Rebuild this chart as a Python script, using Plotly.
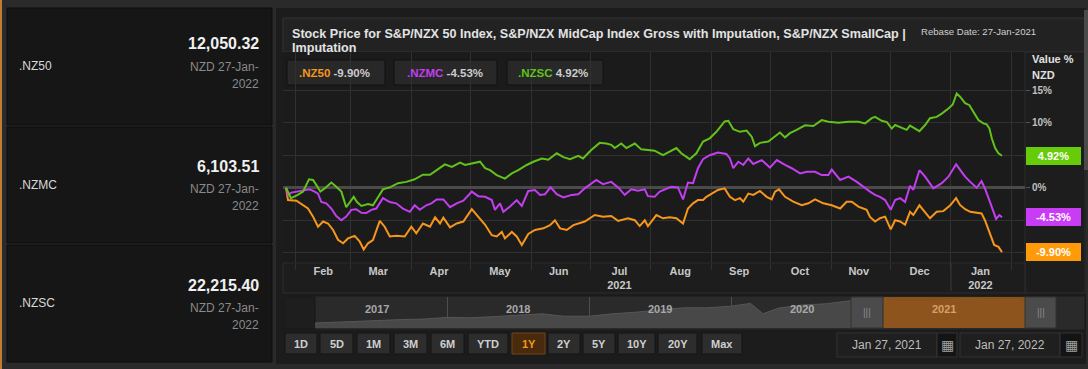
import plotly.graph_objects as go
import pandas as pd

W, H = 1088, 369
def px(x): return x / W
def py(y): return 1 - y / H

FONT = "Arial, Liberation Sans, sans-serif"

# ---------------- data ----------------
REBASE_DATE = "2021-01-27"
symbols = [".NZ50", ".NZMC", ".NZSC"]
last_prices = ["12,050.32", "6,103.51", "22,215.40"]
price_date_1 = "NZD 27-Jan-"
price_date_2 = "2022"
changes = [-9.90, -4.53, 4.92]
line_colors = ["#f7961c", "#c23ef0", "#62c21b"]
tag_colors = ["#ff9a0a", "#c93cf5", "#66cc0a"]

# days since rebase date and % change values
nz50_days = [0, 1, 5.3, 8.7, 11.2, 13.8, 16.3, 18.9, 21.4, 24,
             26.5, 29.1, 31.6, 35, 37.6, 39.6, 41.8, 44.3, 47.8, 50.3,
             52.9, 56.2, 60.5, 63.9, 66.4, 69.8, 73.4, 76, 78.5, 80.2,
             83.6, 87, 90.4, 94.7, 98, 101.5, 104.9, 107.4, 110, 111.6,
             115.1, 117.6, 120.2, 123.5, 126.9, 131.2, 134.6, 137.1, 139.7, 143.1,
             146.5, 149, 152.3, 157.4, 161.6, 165.8, 169.3, 174.3, 177.8, 180.3,
             182.9, 184.5, 188.8, 192.2, 195.6, 199, 202.4, 204.9, 207.5, 210,
             212.6, 214.3, 216.8, 220.2, 223.6, 226.3, 228.9, 231.4, 233.1, 235.7,
             238.2, 241.6, 245, 247.6, 249.3, 251.3, 254.4, 258.6, 262.9, 266.3,
             269.7, 273.9, 278.2, 282.5, 285.8, 288.4, 291.8, 296, 297.7, 300.3,
             302.8, 305.4, 308.3, 310.5, 313.1, 315.6, 318.1, 319.8, 322.9, 325.8,
             328.3, 331.7, 335.1, 338.5, 341.6, 343.6, 346.2, 348.8, 352.1, 354.6,
             356.3, 358.9, 361, 363.2, 365]
nz50_vals = [0, -1.9, -2.0, -2.7, -3.2, -4.45, -6.0, -5.2, -5.5, -6.5,
             -8.0, -8.55, -7.8, -7.4, -8.3, -9.5, -8.55, -8.05, -5.1, -6.0,
             -7.5, -7.4, -7.5, -6.0, -7.0, -5.5, -6.0, -4.55, -5.5, -4.6,
             -6.1, -5.5, -5.2, -3.3, -4.45, -5.7, -7.3, -7.5, -6.8, -7.8,
             -6.8, -7.5, -8.8, -7.1, -6.5, -6.25, -5.75, -5.0, -6.25, -6.5,
             -5.75, -5.5, -5.2, -4.2, -4.45, -4.35, -5.1, -4.7, -5.0, -5.9,
             -5.0, -5.9, -4.2, -4.7, -4.55, -4.7, -5.5, -3.2, -2.4, -1.9,
             -1.9, -1.4, -0.9, -0.35, -0.1, -1.4, -1.9, -1.6, -2.15, -0.9,
             -1.1, -0.5, -1.4, -1.8, -0.6, -0.25, -1.4, -2.15, -2.7, -2.4,
             -1.8, -2.4, -2.7, -3.2, -2.15, -2.15, -2.9, -3.4, -4.5, -5.2,
             -4.7, -4.45, -6.4, -5.0, -5.2, -5.7, -3.7, -4.2, -2.7, -3.7,
             -4.7, -3.7, -3.6, -2.75, -1.6, -2.65, -3.3, -3.7, -3.9, -3.95,
             -5.0, -7.0, -8.8, -9.1, -9.90]

nzmc_days = [0, 1, 2.7, 6.1, 9.5, 12.1, 14.6, 16.3, 18, 20.5,
             23.1, 25.6, 28.2, 30.7, 33.3, 35.8, 38.4, 40.9, 43.5, 46,
             49.4, 52.9, 56.2, 59.6, 63.1, 65.6, 68.2, 71.5, 74.1, 76.8,
             80.2, 83.6, 87, 90.4, 94.7, 98, 101.5, 104.9, 106.5, 109.1,
             110.8, 114.2, 117.6, 120.2, 123.5, 126.9, 129.5, 132, 134.9, 138,
             141.4, 145.6, 149, 152.3, 158.2, 161.6, 165.8, 169.3, 172.7, 176,
             179.4, 182.9, 184.5, 187.9, 190.5, 193, 196.4, 199.8, 202.4, 204.9,
             207.5, 210, 212.6, 216, 220.2, 224.5, 226.3, 228, 230.6, 233.1,
             235.7, 238.2, 242.5, 246.7, 250.2, 254.4, 257.8, 262.1, 265.5, 269.7,
             273.1, 276.5, 278.2, 282.5, 286.7, 291, 295.2, 297.7, 300.3, 302.8,
             305.4, 308.3, 310.5, 313.1, 315.6, 318.1, 319.8, 322.9, 325.8, 330,
             334.3, 337.7, 341.6, 343.6, 346.2, 348.8, 352.1, 354.6, 356.3, 358.9,
             362, 363.7, 365]
nzmc_vals = [0, -1.1, -0.75, -0.6, -0.45, -0.25, -0.6, -0.9, -2.2, -2.4,
             -3.2, -4.35, -5.0, -4.45, -3.4, -3.3, -3.85, -3.9, -3.4, -3.2,
             -1.6, -2.2, -2.4, -3.2, -3.7, -2.7, -3.4, -2.7, -2.4, -1.8,
             -1.8, -3.0, -2.4, -2.0, -0.6, -1.3, -1.4, -1.9, -3.4, -2.4,
             -3.7, -2.9, -1.9, -2.8, -0.5, -0.35, -1.1, -1.0, 0.05, -1.0,
             -1.5, -1.1, -1.0, -0.1, 1.2, 0.55, 0.9, 0.05, -1.1, -0.25,
             -0.45, -0.25, -1.3, -1.4, -0.6, -0.25, 0.15, 0.05, -1.8, 0.8,
             0.7, 3.0, 4.4, 5.0, 5.4, 5.2, 4.5, 3.0, 4.0, 3.5,
             4.5, 3.65, 4.25, 3.1, 4.25, 3.5, 3.0, 2.2, 2.45, 2.45,
             1.95, 1.95, 2.8, 1.2, 1.7, 0.9, -0.1, -0.6, -1.1, -1.4,
             -1.9, -3.4, -1.9, -1.6, -2.2, 0.3, -0.35, 2.7, 1.7, -0.1,
             0.7, 1.7, 3.6, 2.7, 1.7, 0.9, 0.0, 1.0, -0.1, -2.2,
             -4.8, -4.2, -4.53]

nzsc_days = [0, 2.5, 6, 8.7, 11.7, 13.8, 15.5, 17.5, 19.7, 23.1,
             25.6, 28.2, 30.7, 32.5, 34.5, 36.2, 38.4, 41.8, 44.3, 46,
             49.4, 52.9, 57.1, 61.3, 65.6, 69.8, 73.4, 76.8, 81, 84.5,
             88.7, 91.3, 94.7, 98.9, 101.5, 104, 107.4, 111.6, 115.1, 118.4,
             122.7, 126.1, 130.4, 133.7, 138, 141.4, 144.8, 149, 151.4, 155.6,
             159.9, 163.3, 165.8, 167.6, 170.9, 173.5, 177.8, 181.1, 184.5, 187.9,
             192.2, 195.6, 199, 201.5, 205.8, 209.2, 212.6, 216, 219.4, 223.6,
             225.5, 228, 231.4, 234.8, 237.4, 239.1, 241.6, 245.9, 249.3, 251.8,
             254.4, 256.9, 260.3, 264.6, 268.8, 273.1, 276.5, 281.6, 286.7, 291.8,
             295.2, 298.6, 300.3, 303.7, 306.3, 308.8, 310.5, 313.9, 316.4, 318.1,
             320.7, 322.9, 325.8, 328.3, 331.7, 334.3, 337.7, 339.9, 341.9, 343.6,
             346.2, 348.4, 350.4, 353, 355.5, 357.2, 358.6, 359.8, 361.5, 363.2,
             365]
nzsc_vals = [0, -1.6, -1.1, -0.6, 1.3, 1.2, 0.4, -0.6, -0.1, 0.8,
             0.15, -0.6, -3.0, -2.2, -1.4, -2.2, -2.8, -2.5, -2.7, -1.9,
             -0.25, 0.05, 0.7, 0.9, 1.3, 2.0, 2.0, 2.7, 3.6, 3.2,
             3.85, 3.5, 3.75, 4.0, 3.0, 2.7, 1.95, 1.4, 2.2, 2.7,
             3.5, 4.0, 4.5, 4.3, 5.3, 4.7, 4.4, 4.9, 4.5, 5.8,
             6.9, 6.8, 6.6, 6.1, 6.8, 6.1, 6.8, 5.9, 5.8, 5.7,
             5.0, 5.5, 6.1, 5.3, 4.4, 5.3, 7.1, 7.6, 8.6, 10.2,
             10.3, 9.0, 8.6, 8.8, 7.85, 6.4, 6.9, 7.1, 7.85, 8.5,
             7.75, 8.4, 8.9, 9.6, 9.5, 10.4, 10.15, 10.0, 10.15, 10.15,
             9.9, 10.7, 10.9, 10.3, 10.1, 9.1, 9.65, 9.2, 8.9, 9.55,
             9.1, 8.7, 9.65, 10.7, 10.9, 11.4, 12.2, 12.8, 14.5, 14.0,
             13.0, 12.7, 11.7, 10.4, 9.9, 9.75, 9.1, 7.6, 6.1, 5.3,
             4.92]

month_tick_dates = ["2021-02-15", "2021-03-15", "2021-04-15", "2021-05-16", "2021-06-15",
                    "2021-07-16", "2021-08-16", "2021-09-15", "2021-10-16", "2021-11-15",
                    "2021-12-16", "2022-01-16"]
month_tick_labels = ["Feb", "Mar", "Apr", "May", "Jun", "Jul<br>2021", "Aug", "Sep",
                     "Oct", "Nov", "Dec", "Jan<br>2022"]
# labels at -10, -5 and 5 are hidden behind the value tags in the reference
y_tick_vals = [-10, -5, 0, 5, 10, 15]
y_tick_text = ["", "", "0%", "", "10%", "15%"]

# navigator (long history of index level)
nav_dates = ["2017-01-24", "2017-03-01", "2017-05-01", "2017-07-01", "2017-09-01", "2017-11-01",
             "2018-01-01", "2018-03-01", "2018-05-01", "2018-07-01", "2018-09-01", "2018-10-25",
             "2018-12-01", "2019-01-01", "2019-03-01", "2019-05-01", "2019-07-01", "2019-09-01",
             "2019-11-01", "2020-01-01", "2020-02-20", "2020-03-23", "2020-05-01", "2020-07-01",
             "2020-09-01", "2020-11-01", "2021-01-04", "2021-03-01", "2021-05-01", "2021-07-01",
             "2021-09-01", "2021-11-01", "2022-01-04", "2022-01-27"]
nav_vals = [7000, 7100, 7300, 7600, 7850, 8000,
            8400, 8300, 8600, 9000, 9300, 8700,
            8800, 8700, 9300, 9700, 10300, 10800,
            10800, 11200, 11900, 9300, 10700, 11500,
            11800, 12600, 13300, 12500, 12300, 12700,
            13200, 12800, 12900, 12050]
nav_years = ["2017", "2018", "2019", "2020", "2021"]

range_buttons = ["1D", "5D", "1M", "3M", "6M", "YTD", "1Y", "2Y", "5Y", "10Y", "20Y", "Max"]
active_button = "1Y"
date_from, date_to = "Jan 27, 2021", "Jan 27, 2022"

# ---------------- figure ----------------
base = pd.Timestamp(REBASE_DATE)
def to_dates(days):
    return base + pd.to_timedelta(days, unit="D")

fig = go.Figure()
for days, vals, col in [(nz50_days, nz50_vals, line_colors[0]),
                        (nzmc_days, nzmc_vals, line_colors[1]),
                        (nzsc_days, nzsc_vals, line_colors[2])]:
    fig.add_trace(go.Scatter(x=to_dates(days), y=vals, mode="lines",
                             line=dict(color=col, width=2), hoverinfo="skip"))

fig.add_trace(go.Scatter(x=nav_dates, y=nav_vals, xaxis="x2", yaxis="y2", mode="lines",
                         fill="tozeroy", fillcolor="#484848",
                         line=dict(color="#565656", width=1), hoverinfo="skip"))

shapes = []
def rect(x0, y0, x1, y1, fill, line=None, lw=1, layer="below"):
    shapes.append(dict(type="rect", xref="paper", yref="paper",
                       x0=px(x0), x1=px(x1), y0=py(y1), y1=py(y0),
                       fillcolor=fill, line=dict(color=line or fill, width=lw if line else 0),
                       layer=layer))

# left cards
rect(0, 0, 2, 369, "#c47a32")
card_rows = [(8, 125), (127, 243), (245, 362)]
for (t, b) in card_rows:
    rect(7, t, 272, b, "#161616", "#0c0c0c")
# chart container
rect(276, 8, 1086, 364, "#1c1c1c")
rect(283, 18, 1085, 52, "#222222", "#333333")
rect(283, 52, 1025, 263, "#1b1b1b")
rect(1025, 52, 1085, 293, "#1d1d1d", "#2c2c2c")
rect(283, 263, 1025, 293, "#1d1d1d", "#2c2c2c")
# navigator background
rect(283, 296, 1085, 330, "#2a2a2a", "#1a1a1a")
rect(284, 297, 315, 329, "#1e1e1e", "#161616")
# legend boxes
legend_boxes = [(287, 385), (394, 497), (507, 603)]
for (x0, x1) in legend_boxes:
    rect(x0, 60, x1, 85, "#282828", "#111111")
# scrollbar
rect(1084, 10, 1088, 170, "#4a4a4a")

# year boundary tick under axis
shapes.append(dict(type="line", xref="x", yref="paper", x0="2022-01-01", x1="2022-01-01",
                   y0=py(291), y1=py(263), line=dict(color="#3a3a3a", width=1)))

# selection overlay in navigator
shapes.append(dict(type="rect", xref="x2", yref="paper", x0=REBASE_DATE, x1="2022-01-27",
                   y0=py(328), y1=py(297), fillcolor="rgba(150,85,25,0.9)",
                   line=dict(width=0), layer="above"))
rect(851, 297, 883, 328, "#4b4b4b", "#333333", layer="above")
rect(1025, 297, 1056, 328, "#4b4b4b", "#333333", layer="above")

# buttons
btn_x = [(285, 317), (320, 353), (357, 390), (394, 427), (431, 464), (468, 508),
         (512, 545), (548, 580), (583, 615), (618, 655), (658, 697), (702, 742)]
for lab, (x0, x1) in zip(range_buttons, btn_x):
    if lab == active_button:
        rect(x0, 333, x1, 354, "#4a2a0c", "#6e4418")
    else:
        rect(x0, 333, x1, 354, "#2d2d2d", "#151515")
# date boxes
rect(837, 333, 937, 357, "#1f1f1f", "#333333")
rect(937, 333, 957, 357, "#141414", "#333333")
rect(960, 333, 1060, 357, "#1f1f1f", "#333333")
rect(1060, 333, 1082, 357, "#141414", "#333333")

ann = []
def text(x, y, s, size=11, color="#dddddd", anchor="left", bold=False, **kw):
    ann.append(dict(xref="paper", yref="paper", x=px(x), y=py(y), text=s, showarrow=False,
                    xanchor=anchor, yanchor="middle",
                    font=dict(family=FONT, size=size, color=color,
                              weight="bold" if bold else "normal"), **kw))

# left panel text
sym_y = [66, 185, 303]
price_y = [44, 166, 285]
for sym, pr, sy, pyy in zip(symbols, last_prices, sym_y, price_y):
    text(17, sy, sym, 12, "#d8d8d8")
    text(261, pyy, pr, 16, "#f0f0f0", anchor="right", bold=True)
    text(261, pyy + 23, price_date_1, 12, "#8a8a8a", anchor="right")
    text(261, pyy + 40, price_date_2, 12, "#8a8a8a", anchor="right")

# title
text(290, 34, "Stock Price for S&P/NZX 50 Index, S&P/NZX MidCap Index Gross with Imputation, S&P/NZX SmallCap |",
     12.6, "#e2e2e2", bold=True)
text(290, 48, "Imputation", 12.6, "#e2e2e2", bold=True)
text(919, 31, "Rebase Date: 27-Jan-2021", 9.6, "#cfcfcf")
text(1030, 59, "Value %", 11, "#e0e0e0", bold=True)
text(1030, 75, "NZD", 11, "#e0e0e0", bold=True)

# legend entries
leg_x = [297, 405, 516]
for sym, chg, col, lx in zip(symbols, changes, line_colors, leg_x):
    text(lx, 73, f"<span style='color:{col}'>{sym}</span> {chg:.2f}%", 11.5, "#cccccc", bold=True)

# value tags on right axis
for chg, col in zip(changes, tag_colors):
    ann.append(dict(xref="paper", yref="y", x=px(1053.5), y=chg, text=f"{chg:.2f}%",
                    showarrow=False, xanchor="center", yanchor="middle",
                    bgcolor=col, bordercolor=col, borderwidth=1, borderpad=1,
                    width=51, height=14,
                    font=dict(family=FONT, size=11, color="#ffffff", weight="bold")))

# navigator year labels
for yr in nav_years:
    ann.append(dict(xref="x2", yref="paper", x=f"{yr}-07-02", y=py(309), text=yr,
                    showarrow=False, xanchor="center", yanchor="middle",
                    font=dict(family=FONT, size=11, weight="bold",
                              color="#d6a068" if yr == "2021" else "#a8a8a8")))
text(867, 312, "|||", 10, "#8a8a8a", anchor="center")
text(1040.5, 312, "|||", 10, "#8a8a8a", anchor="center")

# buttons text
for lab, (x0, x1) in zip(range_buttons, btn_x):
    text((x0 + x1) / 2, 344, lab, 11, "#f39a1e" if lab == active_button else "#cfcfcf",
         anchor="center", bold=True)
text(887, 345, date_from, 12, "#bdbdbd", anchor="center")
text(1010, 345, date_to, 12, "#bdbdbd", anchor="center")
text(947, 345, "▦", 14, "#a0a0a0", anchor="center")
text(1071, 345, "▦", 14, "#a0a0a0", anchor="center")

month_starts = [d.strftime("%Y-%m-%d") for d in pd.date_range("2021-02-01", "2022-02-01", freq="MS")]
year_starts = ["2018-01-01", "2019-01-01", "2020-01-01", "2021-01-01"]

fig.update_layout(
    width=W, height=H, autosize=False,
    margin=dict(l=0, r=0, t=0, b=0),
    paper_bgcolor="#2a2a2a", plot_bgcolor="rgba(0,0,0,0)",
    showlegend=False, shapes=shapes, annotations=ann,
    font=dict(family=FONT),
    xaxis=dict(domain=[px(283), px(1025)], anchor="y", type="date",
               range=["2021-01-25 11:00", "2022-02-07 17:30"],
               tickmode="array", tickvals=month_tick_dates, ticktext=month_tick_labels,
               showgrid=False, ticks="", zeroline=False, showline=False,
               tickfont=dict(size=11, color="#c8c8c8", weight="bold"),
               minor=dict(tickmode="array", tickvals=month_starts, showgrid=True,
                          gridcolor="#303030", gridwidth=1, ticks="outside", ticklen=6,
                          tickcolor="#303030"),
               fixedrange=True),
    yaxis=dict(domain=[py(263), py(52)], anchor="x", side="right",
               range=[-11.58, 20.88], tickmode="array", tickvals=y_tick_vals,
               ticktext=y_tick_text, showgrid=True, gridcolor="#303030", gridwidth=1,
               zeroline=True, zerolinecolor="#4a4a4a", zerolinewidth=3,
               ticks="outside", ticklen=4, tickcolor="#555555",
               tickfont=dict(size=10, color="#c0c0c0", weight="bold"),
               fixedrange=True),
    xaxis2=dict(domain=[px(315), px(1025)], anchor="y2", type="date",
                range=["2017-01-24", "2022-01-27"], tickmode="array", tickvals=year_starts,
                showticklabels=False, showgrid=True, gridcolor="#4e4e4e", ticks="",
                zeroline=False, showline=False, fixedrange=True),
    yaxis2=dict(domain=[py(328), py(297)], anchor="x2", range=[5750, 13500],
                visible=False, fixedrange=True),
)

fig.write_html("out.html", config={"displayModeBar": False, "staticPlot": True})
